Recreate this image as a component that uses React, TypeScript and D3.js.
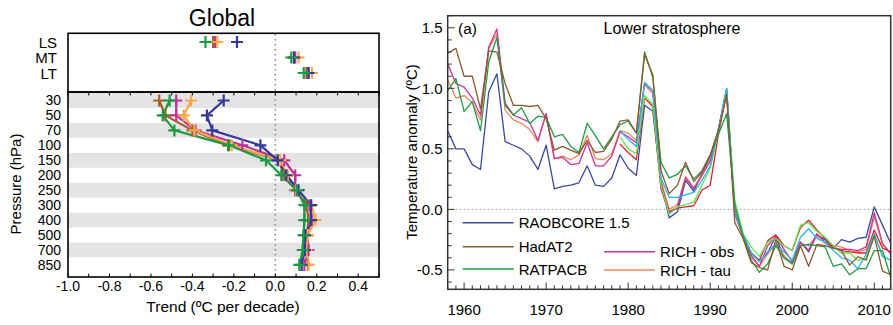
import React from "react";
import * as d3 from "d3";

// ---------- Left panel data ----------
const levels = ["30", "50", "70", "100", "150", "200", "250", "300", "400", "500", "700", "850"];
const layers = ["LS", "MT", "LT"];
const profileNames = ["HadAT2", "RICH - obs", "RICH - tau", "RAOBCORE 1.5", "RATPACB"];
const profileColors = ["#a0622d", "#c2309a", "#f7a94a", "#34399a", "#1a9a45"];
const profHad = [-0.56, -0.53, -0.40, -0.228, 0.02, 0.04, 0.10, 0.15, 0.16, 0.155, 0.155, 0.157];
const profRichObs = [-0.478, -0.478, -0.385, -0.159, 0.043, 0.096, 0.096, 0.165, 0.175, 0.155, 0.16, 0.14];
const profRichTau = [-0.406, -0.442, -0.39, -0.21, 0.023, 0.06, 0.10, 0.175, 0.193, 0.157, 0.15, 0.16];
const profRaob = [-0.249, -0.33, -0.304, -0.072, 0.011, 0.053, 0.112, 0.172, 0.172, 0.143, 0.143, 0.127];
const profRatpac = [-0.51, -0.543, -0.487, -0.223, -0.045, 0.029, 0.104, 0.14, 0.14, 0.136, 0.132, 0.116];
const layHad = [-0.30, 0.09, 0.15];
const layRichObs = [-0.29, 0.096, 0.16];
const layRichTau = [-0.28, 0.112, 0.177];
const layRaob = [-0.185, 0.09, 0.16];
const layRatpac = [-0.337, 0.077, 0.137];
const trendTicks = [-1.0, -0.8, -0.6, -0.4, -0.2, 0.0, 0.2, 0.4];

// ---------- Right panel data ----------
const years = d3.range(1958, 2013);
const satYears = d3.range(1979, 2013);
const raobcore = [0.65, 0.50, 0.50, 0.37, 0.33, 0.97, 1.12, 0.56, 0.53, 0.50, 0.44, 0.33, 0.53, 0.17, 0.19, 0.20, 0.22, 0.36, 0.20, 0.19, 0.26, 0.45, 0.34, 0.28, 0.86, 0.81, 0.22, -0.07, -0.02, 0.24, 0.15, 0.30, 0.44, 0.66, 1.00, -0.03, -0.22, -0.36, -0.43, -0.36, -0.22, -0.40, -0.44, -0.27, -0.35, -0.21, -0.25, -0.32, -0.25, -0.27, -0.24, -0.23, 0.02, -0.13, -0.28];
const hadat2 = [1.29, 1.33, 1.10, 1.10, 0.83, 1.31, 1.30, 1.04, 0.86, 0.86, 0.85, 0.86, 0.75, 0.49, 0.52, 0.49, 0.46, 0.57, 0.47, 0.48, 0.58, 0.73, 0.74, 0.63, 1.28, 1.11, 0.32, 0.13, 0.20, 0.39, 0.23, 0.31, 0.45, 0.65, 0.95, -0.11, -0.24, -0.44, -0.48, -0.50, -0.25, -0.47, -0.50, -0.30, -0.47, -0.29, -0.30, -0.32, -0.34, -0.46, -0.39, -0.42, -0.22, -0.51, -0.54];
const ratpacb = [0.98, 1.08, 0.81, 0.89, 0.65, 1.22, 1.42, 0.86, 0.78, 0.84, 0.71, 0.77, 0.76, 0.60, 0.62, 0.52, 0.47, 0.71, 0.61, 0.50, 0.60, 0.70, 0.73, 0.63, 1.30, 1.09, 0.39, 0.26, 0.29, 0.36, 0.25, 0.32, 0.45, 0.62, 0.79, 0.04, -0.22, -0.42, -0.52, -0.45, -0.30, -0.40, -0.45, -0.30, -0.29, -0.30, -0.31, -0.47, -0.45, -0.54, -0.49, -0.49, -0.34, -0.34, -0.56];
const richObs = [1.20, 1.04, 1.01, 0.92, 0.78, 1.34, 1.49, 0.88, 0.78, 0.75, 0.72, 0.57, 0.79, 0.42, 0.43, 0.37, 0.38, 0.55, 0.36, 0.36, 0.44, 0.64, 0.60, 0.55, 1.04, 0.98, 0.22, -0.02, 0.02, 0.26, 0.17, 0.28, 0.40, 0.66, 0.98, -0.03, -0.22, -0.38, -0.47, -0.30, -0.22, -0.33, -0.43, -0.27, -0.34, -0.20, -0.27, -0.32, -0.33, -0.33, -0.34, -0.31, -0.03, -0.28, -0.37];
const richTau = [1.07, 0.92, 0.94, 0.88, 0.74, 1.33, 1.45, 0.82, 0.74, 0.71, 0.66, 0.56, 0.79, 0.42, 0.44, 0.41, 0.45, 0.61, 0.42, 0.41, 0.46, 0.65, 0.63, 0.57, 1.03, 0.96, 0.24, 0.00, 0.04, 0.27, 0.18, 0.29, 0.41, 0.66, 0.97, -0.04, -0.23, -0.40, -0.47, -0.37, -0.28, -0.38, -0.45, -0.28, -0.30, -0.22, -0.28, -0.30, -0.31, -0.34, -0.35, -0.33, -0.06, -0.29, -0.36];
const satCyan = [0.65, 0.58, 0.52, 1.05, 0.98, 0.26, 0.10, 0.10, 0.12, 0.14, 0.24, 0.36, 0.66, 1.00, -0.02, -0.21, -0.36, -0.43, -0.35, -0.29, -0.35, -0.42, -0.23, -0.16, -0.24, -0.27, -0.34, -0.40, -0.42, -0.49, -0.37, -0.20, -0.39, -0.42];
const satLightGreen = [0.60, 0.50, 0.46, 0.94, 0.87, 0.20, -0.04, 0.02, 0.04, 0.06, 0.20, 0.34, 0.64, 0.97, 0.07, -0.20, -0.31, -0.39, -0.27, -0.24, -0.30, -0.34, -0.13, -0.11, -0.18, -0.23, -0.30, -0.36, -0.36, -0.42, -0.40, -0.20, -0.38, -0.42];
const satRed = [0.54, 0.47, 0.41, 0.92, 0.85, 0.17, -0.03, 0.01, 0.02, 0.03, 0.16, 0.20, 0.62, 0.96, -0.01, -0.21, -0.36, -0.42, -0.26, -0.21, -0.30, -0.34, -0.15, -0.09, -0.17, -0.24, -0.31, -0.34, -0.35, -0.36, -0.36, -0.17, -0.32, -0.35];
const yearTicks = [1960, 1970, 1980, 1990, 2000, 2010];
const anomalyTicks = [-0.5, 0.0, 0.5, 1.0, 1.5];

const FONT = "'Liberation Sans', Arial, sans-serif";

export default function App() {
  // ----- left scales -----
  const xL = d3.scaleLinear().domain([-1.0, 0.5]).range([68, 379]);
  const yLev = d3.scaleBand<string>().domain(levels).range([93, 272.4]);
  const yLay = d3.scalePoint<string>().domain(layers).range([42, 73]);
  const profiles = [profHad, profRichObs, profRichTau, profRaob, profRatpac];
  const layerVals = [layHad, layRichObs, layRichTau, layRaob, layRatpac];
  const cy = (l: string) => (yLev(l) as number) + yLev.bandwidth() / 2;
  const profLine = d3.line<number>().x((d) => xL(d)).y((_, i) => cy(levels[i]));
  const plus = (x: number, y: number, c: string, k: string) => (
    <path key={k} d={`M${x - 6},${y}H${x + 6}M${x},${y - 6}V${y + 6}`} stroke={c} strokeWidth={2.2} fill="none" />
  );
  const minorL = d3.range(-1.0, 0.5001, 0.1);

  // ----- right scales -----
  const xR = d3.scaleLinear().domain([1958, 2012]).range([447.7, 890.7]);
  const yR = d3.scaleLinear().domain([-0.66, 1.6]).range([289.3, 15.7]);
  const lineR = d3.line<[number, number]>().x((d) => xR(d[0])).y((d) => yR(d[1]));
  const series = [
    { name: "RAOBCORE 1.5", color: "#3b47a3", yrs: years, vals: raobcore },
    { name: "RICH - tau", color: "#ec8757", yrs: years, vals: richTau },
    { name: "RICH - obs", color: "#cc3399", yrs: years, vals: richObs },
    { name: "sat3", color: "#dd2233", yrs: satYears, vals: satRed },
    { name: "sat2", color: "#5fe84a", yrs: satYears, vals: satLightGreen },
    { name: "sat1", color: "#28b4f0", yrs: satYears, vals: satCyan },
    { name: "RATPACB", color: "#1f9a47", yrs: years, vals: ratpacb },
    { name: "HadAT2", color: "#8b5a2b", yrs: years, vals: hadat2 },
  ];
  const colorOf = (n: string) => series.find((s) => s.name === n)!.color;
  const legend = [
    { name: "RAOBCORE 1.5", x: 462.7, y: 222.7 },
    { name: "HadAT2", x: 462.7, y: 246.7 },
    { name: "RATPACB", x: 462.7, y: 269 },
    { name: "RICH - obs", x: 604, y: 251.7 },
    { name: "RICH - tau", x: 604, y: 270 },
  ];
  const minorYears = d3.range(1958, 2013);
  const minorAnom = d3.range(-0.6, 1.6001, 0.1);

  return (
    <svg width={893} height={325} style={{ position: "absolute", left: 0, top: 0, background: "#fff" }} fontFamily={FONT}>
      {/* ================= LEFT PANEL ================= */}
      <text x={222} y={26} fontSize={23} textAnchor="middle">Global</text>
      {levels.map((l, i) =>
        i % 2 === 0 ? (
          <rect key={"b" + l} x={68} y={yLev(l)} width={311} height={yLev.bandwidth()} fill="#e4e4e4" />
        ) : null
      )}
      <line x1={xL(0)} x2={xL(0)} y1={34} y2={277} stroke="#888" strokeWidth={1.5} strokeDasharray="1.5,3.5" />
      <rect x={68} y={33.3} width={311} height={58.7} fill="none" stroke="#000" strokeWidth={1.6} />
      <rect x={68} y={92} width={311} height={185} fill="none" stroke="#000" strokeWidth={1.6} />
      {minorL.map((v, i) => (
        <g key={"mt" + i}>
          <line x1={xL(v)} x2={xL(v)} y1={92} y2={95.5} stroke="#000" strokeWidth={1} />
          <line x1={xL(v)} x2={xL(v)} y1={277} y2={273.5} stroke="#000" strokeWidth={1} />
        </g>
      ))}
      {trendTicks.map((t) => (
        <text key={"xt" + t} x={xL(t)} y={291} fontSize={14} textAnchor="middle">{t.toFixed(1)}</text>
      ))}
      <text x={223} y={312} fontSize={15.5} textAnchor="middle">Trend (ºC per decade)</text>
      {levels.map((l) => (
        <text key={"yl" + l} x={61} y={cy(l) + 5} fontSize={14} textAnchor="end">{l}</text>
      ))}
      {layers.map((l) => (
        <text key={"la" + l} x={57} y={(yLay(l) as number) + 5.5} fontSize={15} textAnchor="end">{l}</text>
      ))}
      <text transform="translate(21,184) rotate(-90)" fontSize={15} textAnchor="middle">Pressure (hPa)</text>
      {profiles.map((p, si) => (
        <path key={"pl" + si} d={profLine(p) || ""} fill="none" stroke={profileColors[si]} strokeWidth={2.2} />
      ))}
      {profiles.map((p, si) => p.map((v, i) => plus(xL(v), cy(levels[i]), profileColors[si], `pp${si}-${i}`)))}
      {layerVals.map((p, si) => p.map((v, i) => plus(xL(v), yLay(layers[i]) as number, profileColors[si], `lp${si}-${i}`)))}

      {/* ================= RIGHT PANEL ================= */}
      <line x1={447.7} x2={890.7} y1={yR(0)} y2={yR(0)} stroke="#999" strokeWidth={1} strokeDasharray="1.5,2.5" />
      {series.map((s) => (
        <path
          key={s.name}
          d={lineR(s.yrs.map((y, i) => [y, s.vals[i]] as [number, number])) || ""}
          fill="none"
          stroke={s.color}
          strokeWidth={1.3}
          strokeLinejoin="round"
        />
      ))}
      <rect x={447.7} y={15.7} width={443} height={273.6} fill="none" stroke="#333" strokeWidth={1.5} />
      {minorYears.map((y) => (
        <line key={"yt" + y} x1={xR(y)} x2={xR(y)} y1={289.3} y2={y % 10 === 0 ? 282.5 : 285.3} stroke="#333" strokeWidth={1} />
      ))}
      {minorAnom.map((v, i) => (
        <line key={"at" + i} x1={447.7} x2={Math.abs(v * 2 - Math.round(v * 2)) < 0.01 ? 454.5 : 451.7} y1={yR(v)} y2={yR(v)} stroke="#333" strokeWidth={1} />
      ))}
      {yearTicks.map((y) => (
        <text key={"yl" + y} x={xR(y)} y={315} fontSize={15} textAnchor="middle">{y}</text>
      ))}
      {anomalyTicks.map((v) => (
        <text key={"al" + v} x={442.5} y={yR(v) + 5.5} fontSize={15} textAnchor="end">{v.toFixed(1)}</text>
      ))}
      <text transform="translate(417,152) rotate(-90)" fontSize={15} textAnchor="middle">Temperature anomaly (ºC)</text>
      <text x={458} y={34} fontSize={15.5}>(a)</text>
      <text x={672} y={34} fontSize={16} textAnchor="middle">Lower stratosphere</text>
      {legend.map((l) => (
        <g key={"lg" + l.name}>
          <line x1={l.x} x2={l.x + 51} y1={l.y} y2={l.y} stroke={colorOf(l.name)} strokeWidth={1.5} />
          <text x={l.x + 56} y={l.y + 5.5} fontSize={15}>{l.name}</text>
        </g>
      ))}
    </svg>
  );
}
